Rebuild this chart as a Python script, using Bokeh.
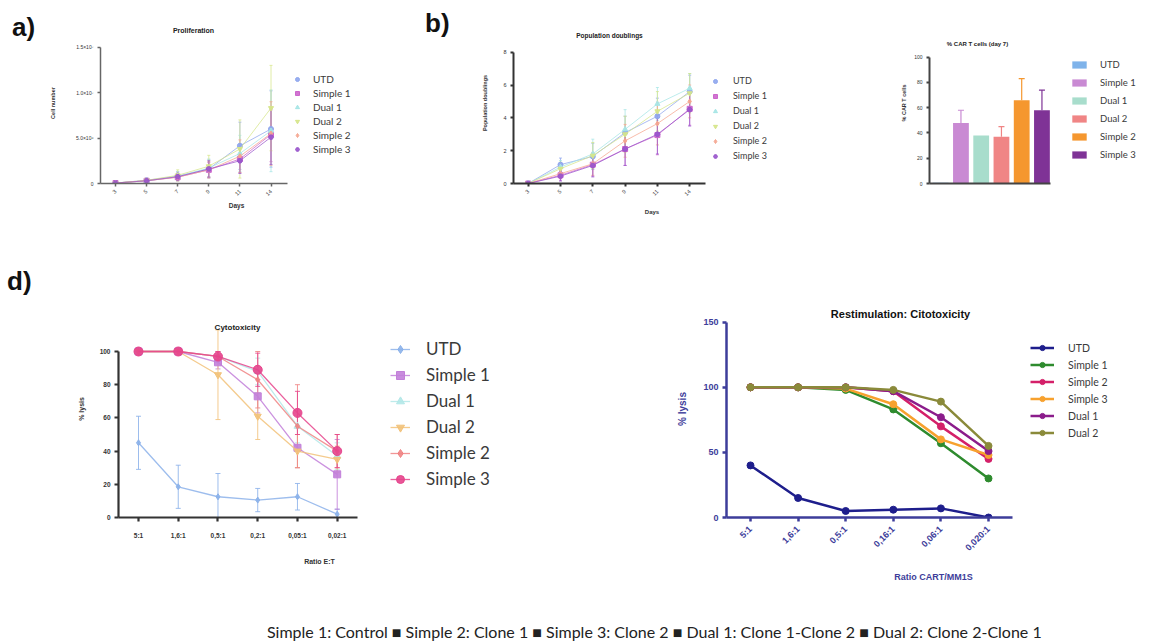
import math
from bokeh.plotting import figure
from bokeh.models import (ColumnDataSource, Range1d, Legend, LegendItem, Label,
                          Whisker, TeeHead, FixedTicker, Div)
from bokeh.layouts import column, row
from bokeh.embed import file_html
from bokeh.resources import INLINE

# ---------------- data ----------------
names_ab = ["UTD", "Simple 1", "Dual 1", "Dual 2", "Simple 2", "Simple 3"]
days = ["3", "5", "7", "9", "11", "14"]

# a) Proliferation (cell number, x10^6)
a_utd = [0.05, 0.35, 0.8, 1.6, 4.15, 6.0]
a_simple1 = [0.05, 0.3, 0.7, 1.5, 2.7, 5.4]
a_dual1 = [0.05, 0.3, 0.8, 1.7, 3.3, 5.8]
a_dual2 = [0.05, 0.35, 0.9, 1.9, 3.8, 8.3]
a_simple2 = [0.05, 0.3, 0.7, 1.5, 3.0, 5.5]
a_simple3 = [0.05, 0.3, 0.75, 1.6, 2.5, 5.1]
a_utd_sd = [0.05, 0.2, 0.5, 1.0, 2.6, 4.2]
a_simple1_sd = [0.05, 0.2, 0.4, 0.8, 1.5, 3.0]
a_dual1_sd = [0.05, 0.2, 0.5, 1.0, 2.0, 4.5]
a_dual2_sd = [0.05, 0.25, 0.6, 1.2, 3.2, 4.7]
a_simple2_sd = [0.05, 0.2, 0.4, 0.9, 1.8, 3.5]
a_simple3_sd = [0.05, 0.2, 0.4, 0.9, 1.4, 3.0]
a_yticks = [0, 5, 10, 15]
a_ytick_labels = ["0", "5.0×10⁶", "1.0×10⁷", "1.5×10⁷"]

# b) Population doublings
b_utd = [0.0, 1.15, 1.65, 3.1, 4.1, 5.6]
b_simple1 = [0.0, 0.5, 1.15, 2.1, 2.95, 4.55]
b_dual1 = [0.0, 1.0, 1.8, 3.3, 4.85, 5.8]
b_dual2 = [0.0, 0.9, 1.7, 3.0, 4.4, 5.5]
b_simple2 = [0.0, 0.6, 1.2, 2.6, 3.65, 5.0]
b_simple3 = [0.0, 0.45, 1.1, 2.1, 3.0, 4.5]
b_utd_sd = [0.0, 0.4, 0.8, 1.0, 1.1, 1.0]
b_simple1_sd = [0.0, 0.3, 0.7, 1.0, 1.2, 1.0]
b_dual1_sd = [0.0, 0.4, 0.9, 1.2, 1.0, 0.9]
b_dual2_sd = [0.0, 0.4, 0.8, 1.1, 1.2, 1.2]
b_simple2_sd = [0.0, 0.3, 0.7, 1.0, 1.3, 1.0]
b_simple3_sd = [0.0, 0.3, 0.7, 1.0, 1.2, 1.0]
b_yticks = [0, 2, 4, 6, 8]

# c) % CAR T cells (day 7)
c_values = [0.5, 48, 38, 37, 66, 58]
c_err = [0, 10, 0, 8, 17, 16]
c_yticks = [0, 20, 40, 60, 80, 100]

# d) Cytotoxicity
ratios_d = ["5:1", "1,6:1", "0,5:1", "0,2:1", "0,05:1", "0,02:1"]
d_utd = [45, 18.5, 12.5, 10.5, 12.5, 2]
d_simple1 = [100, 100, 93.5, 73, 42, 26]
d_dual1 = [100, 100, 97, 88, 55, 37]
d_dual2 = [100, 100, 86, 61, 40, 35]
d_simple2 = [100, 100, 97, 83, 55, 40]
d_simple3 = [100, 100, 97, 89, 63, 40]
d_utd_sd = [16, 13, 14, 7, 8, 3]
d_simple1_sd = [1, 1, 4, 10, 12, 21]
d_dual1_sd = [1, 1, 3, 8, 10, 8]
d_dual2_sd = [1, 1, 27, 14, 10, 8]
d_simple2_sd = [1, 1, 3, 17, 25, 10]
d_simple3_sd = [1, 1, 3, 10, 13, 10]
d_yticks = [0, 20, 40, 60, 80, 100]

# e) Restimulation: Citotoxicity
names_e = ["UTD", "Simple 1", "Simple 2", "Simple 3", "Dual 1", "Dual 2"]
ratios_e = ["5:1", "1,6:1", "0,5:1", "0,16:1", "0,06:1", "0,020:1"]
e_utd = [40, 15, 5, 6, 7, 0]
e_simple1 = [100, 100, 98, 83, 57, 30]
e_simple2 = [100, 100, 100, 97, 70, 45]
e_simple3 = [100, 100, 99, 87, 60, 48]
e_dual1 = [100, 100, 100, 97, 77, 51]
e_dual2 = [100, 100, 100, 98, 89, 55]
e_yticks = [0, 50, 100, 150]

footer_parts = ["Simple 1: Control", "Simple 2: Clone 1", "Simple 3: Clone 2",
                "Dual 1: Clone 1-Clone 2", "Dual 2: Clone 2-Clone 1"]

# ---------------- styles ----------------
ab_colors = ["#8fa6ee", "#cc66cc", "#a6e6e6", "#d6e68a", "#f5a58f", "#9955cc"]
ab_markers = ["circle", "square", "triangle", "inverted_triangle", "diamond", "hex"]
c_colors = ["#7fb3ea", "#c98ad3", "#a8ddcc", "#f08585", "#f5972f", "#7f3396"]
d_colors = ["#8cb2ea", "#c27fd9", "#b3e8e8", "#f2c27a", "#f08484", "#e6448c"]
d_markers = ["diamond", "square", "triangle", "inverted_triangle", "diamond", "circle"]
e_colors = ["#1e1e8c", "#2e8b2e", "#d42069", "#f7a12e", "#8b1c8b", "#8a8a3a"]
ARIAL = "Liberation Sans"
CAL = "Lato"


def geom(pl, pt, w, h, fl, fr, ft, fb, tick0, step, y_top_val, y_top_page, ax_right):
    """Page-pixel layout of one panel -> figure borders and data ranges."""
    g = dict(pl=pl, pt=pt, w=w, h=h, fl=fl, fr=fr, ft=ft, fb=fb)
    g["x0"] = (fl - tick0) / step
    g["x1"] = (fr - tick0) / step
    g["xb"] = (ax_right - tick0) / step
    g["y0"] = 0.0
    g["y1"] = y_top_val * (fb - ft) / (fb - y_top_page)
    g["ytop"] = y_top_val
    return g


def px2x(g, px):
    return g["x0"] + (px - g["fl"]) / (g["fr"] - g["fl"]) * (g["x1"] - g["x0"])


def py2y(g, py):
    return g["y0"] + (g["fb"] - py) / (g["fb"] - g["ft"]) * (g["y1"] - g["y0"])


def make_fig(g):
    p = figure(width=g["w"], height=g["h"],
               x_range=Range1d(g["x0"], g["x1"]), y_range=Range1d(g["y0"], g["y1"]),
               output_backend="svg", toolbar_location=None,
               min_border_left=round(g["fl"] - g["pl"]),
               min_border_right=round(g["pl"] + g["w"] - g["fr"]),
               min_border_top=round(g["ft"] - g["pt"]),
               min_border_bottom=round(g["pt"] + g["h"] - g["fb"]))
    p.outline_line_color = None
    p.grid.visible = False
    p.background_fill_color = "white"
    p.border_fill_color = "white"
    p.xaxis.bounds = (g["x0"], g["xb"])
    p.yaxis.bounds = (0, g["ytop"])
    return p


def style_axis(ax, color, lw, tick_size, font_size, bold=False, label_size="6px",
               label_color=None, label_standoff=5, tick_standoff=4):
    ax.axis_line_color = color
    ax.axis_line_width = lw
    ax.major_tick_line_color = color
    ax.major_tick_line_width = lw
    ax.major_tick_in = 0
    ax.major_tick_out = tick_size
    ax.minor_tick_line_color = None
    ax.major_label_text_font = ARIAL
    ax.major_label_text_font_size = font_size
    ax.major_label_text_color = label_color or "#333333"
    ax.major_label_text_font_style = "bold" if bold else "normal"
    ax.major_label_standoff = tick_standoff
    ax.axis_label_text_font = ARIAL
    ax.axis_label_text_font_size = label_size
    ax.axis_label_text_font_style = "bold"
    ax.axis_label_text_color = label_color or "#333333"
    ax.axis_label_standoff = label_standoff


def set_ticks(ax, labels):
    idx = list(range(len(labels)))
    ax.ticker = FixedTicker(ticks=idx)
    ax.major_label_overrides = {i: l for i, l in zip(idx, labels)}


def add_title(p, g, text, cx, cy, size, color="#222222"):
    p.add_layout(Label(x=px2x(g, cx), y=py2y(g, cy), text=text, text_align="center",
                       text_baseline="middle", text_font=ARIAL, text_font_size=size,
                       text_font_style="bold", text_color=color))


def add_legend(p, g, items, left_page, top_page, h, spacing, glyph_w, glyph_h, standoff,
               font_size):
    n = len(items)
    bottom_page = top_page + n * h + (n - 1) * spacing
    p.add_layout(Legend(items=items,
                        location=(round(left_page - g["fl"]), round(g["fb"] - bottom_page)),
                        label_text_font=CAL, label_text_font_size=font_size,
                        label_text_color="#3a3a3a",
                        glyph_width=glyph_w, glyph_height=glyph_h, label_height=h,
                        spacing=spacing, label_standoff=standoff, padding=0, margin=0,
                        border_line_color=None, background_fill_alpha=0))


def add_series(p, xs, vals, sds, color, marker, size, lw, alpha, head):
    lo = [v - s for v, s in zip(vals, sds)]
    hi = [v + s for v, s in zip(vals, sds)]
    src = ColumnDataSource(dict(x=xs, y=vals, lo=lo, hi=hi))
    ln = p.line("x", "y", source=src, line_color=color, line_width=lw, line_alpha=alpha)
    p.add_layout(Whisker(source=src, base="x", lower="lo", upper="hi", dimension="height",
                         line_color=color, line_width=1, line_alpha=alpha,
                         upper_head=TeeHead(size=head, line_color=color, line_alpha=alpha),
                         lower_head=TeeHead(size=head, line_color=color, line_alpha=alpha)))
    sc = p.scatter("x", "y", source=src, marker=marker, size=size, fill_color=color,
                   line_color=color, fill_alpha=0.9)
    return ln, sc


def panel_label(text, width, height, pad_left, pad_top):
    return Div(text=('<div style="font-family:\'Liberation Sans\',Arial,sans-serif;'
                     'font-weight:bold;font-size:26px;line-height:26px;color:#111;'
                     'margin:0;padding-left:%dpx;padding-top:%dpx">%s</div>'
                     % (pad_left, pad_top, text)),
               width=width, height=height, margin=0)


ROW1_TOP, ROW1_BOTTOM = 22, 183
ROW2_TOP, ROW2_BOTTOM = 300, 517

# ---------------- a) Proliferation ----------------
A = geom(46, 0, 364, 222, 100, 372, ROW1_TOP, ROW1_BOTTOM, 115, 31.1, 15, 46.7, 287)
pA = make_fig(A)
xA = list(range(len(days)))
a_vals = [a_utd, a_simple1, a_dual1, a_dual2, a_simple2, a_simple3]
a_sds = [a_utd_sd, a_simple1_sd, a_dual1_sd, a_dual2_sd, a_simple2_sd, a_simple3_sd]
itemsA = []
for nm, v, s, c, m in zip(names_ab, a_vals, a_sds, ab_colors, ab_markers):
    ln, sc = add_series(pA, xA, v, s, c, m, 5, 1, 0.75, 3)
    itemsA.append(LegendItem(label=nm, renderers=[sc]))
set_ticks(pA.xaxis, days)
pA.yaxis.ticker = FixedTicker(ticks=a_yticks)
pA.yaxis.major_label_overrides = {t: l for t, l in zip(a_yticks, a_ytick_labels)}
style_axis(pA.yaxis, "#666666", 1.5, 3, "5px", label_size="5.5px", label_standoff=17)
style_axis(pA.xaxis, "#666666", 1.5, 3, "5.5px", label_size="6.5px", label_standoff=1)
pA.xaxis.major_label_orientation = math.pi / 4
pA.yaxis.axis_label = "Cell number"
pA.xaxis.axis_label = "Days"
add_legend(pA, A, itemsA, 292, 73, 12, 2, 10, 10, 11, "10px")
add_title(pA, A, "Proliferation", 193, 30, "7px")

# ---------------- b) Population doublings ----------------
B = geom(470, 0, 400, 222, 513, 790, ROW1_TOP, ROW1_BOTTOM, 527.7, 32.3, 8, 51.7, 705)
pB = make_fig(B)
b_vals = [b_utd, b_simple1, b_dual1, b_dual2, b_simple2, b_simple3]
b_sds = [b_utd_sd, b_simple1_sd, b_dual1_sd, b_dual2_sd, b_simple2_sd, b_simple3_sd]
itemsB = []
for nm, v, s, c, m in zip(names_ab, b_vals, b_sds, ab_colors, ab_markers):
    ln, sc = add_series(pB, xA, v, s, c, m, 5, 1, 0.75, 3)
    itemsB.append(LegendItem(label=nm, renderers=[sc]))
set_ticks(pB.xaxis, days)
pB.yaxis.ticker = FixedTicker(ticks=b_yticks)
style_axis(pB.yaxis, "#333333", 2, 3, "5.5px", label_size="5.5px", label_standoff=12)
style_axis(pB.xaxis, "#333333", 2, 3, "5.5px", label_size="6px", label_standoff=8)
pB.xaxis.major_label_orientation = math.pi / 4
pB.yaxis.axis_label = "Population doublings"
pB.xaxis.axis_label = "Days"
add_legend(pB, B, itemsB, 710, 75, 11, 4, 10, 10, 13, "9px")
add_title(pB, B, "Population doublings", 609, 35, "6.5px")

# ---------------- c) % CAR T cells ----------------
C = geom(870, 0, 282, 222, 929, 1150, ROW1_TOP, ROW1_BOTTOM, 940.2, 20.25, 100, 56.7, 1050)
pC = make_fig(C)
xC = list(range(len(names_ab)))
srcC = ColumnDataSource(dict(x=xC, top=c_values, color=c_colors))
rC = pC.vbar(x="x", top="top", width=0.78, source=srcC, fill_color="color",
             line_color=None)
for i, (v, e, c) in enumerate(zip(c_values, c_err, c_colors)):
    if e > 0:
        s = ColumnDataSource(dict(x=[i], lo=[v], hi=[v + e]))
        pC.add_layout(Whisker(source=s, base="x", lower="lo", upper="hi",
                              line_color=c, line_width=1.2,
                              upper_head=TeeHead(size=6, line_color=c, line_width=1.2),
                              lower_head=None))
pC.xaxis.ticker = FixedTicker(ticks=[])
pC.yaxis.ticker = FixedTicker(ticks=c_yticks)
style_axis(pC.yaxis, "#444444", 2, 3, "5px", label_size="5.5px", label_standoff=4)
style_axis(pC.xaxis, "#444444", 2, 3, "5px")
pC.yaxis.axis_label = "% CAR T cells"
add_legend(pC, C, [LegendItem(label=nm, renderers=[rC], index=i)
                   for i, nm in enumerate(names_ab)],
           1070, 58, 12, 6, 18, 9, 12, "9.5px")
add_title(pC, C, "% CAR T cells (day 7)", 977, 43, "6px")

# ---------------- d) Cytotoxicity ----------------
D = geom(52, 222, 588, 383, 118, 520, ROW2_TOP, ROW2_BOTTOM, 138, 39.74, 100, 351, 357)
pD = make_fig(D)
xD = list(range(len(ratios_d)))
d_vals = [d_utd, d_simple1, d_dual1, d_dual2, d_simple2, d_simple3]
d_sds = [d_utd_sd, d_simple1_sd, d_dual1_sd, d_dual2_sd, d_simple2_sd, d_simple3_sd]
d_sizes = [6, 7, 7, 7, 6, 9]
itemsD = []
for nm, v, s, c, m, sz in zip(names_ab, d_vals, d_sds, d_colors, d_markers, d_sizes):
    ln, sc = add_series(pD, xD, v, s, c, m, sz, 1.3, 0.85, 5)
    itemsD.append(LegendItem(label=nm, renderers=[ln, sc]))
set_ticks(pD.xaxis, ratios_d)
pD.yaxis.ticker = FixedTicker(ticks=d_yticks)
style_axis(pD.yaxis, "#333333", 2.2, 4, "6.5px", bold=True, label_size="7px",
           label_standoff=12)
style_axis(pD.xaxis, "#333333", 2.2, 4, "6.5px", bold=True, label_size="7px",
           label_standoff=16, tick_standoff=10)
pD.yaxis.axis_label = "% lysis"
pD.xaxis.axis_label = "Ratio E:T"
add_legend(pD, D, itemsD, 390, 338, 21, 5, 20, 20, 16, "17px")
add_title(pD, D, "Cytotoxicity", 237, 327, "8px")

# ---------------- e) Restimulation ----------------
E = geom(640, 222, 513, 383, 726, 1140, ROW2_TOP, ROW2_BOTTOM, 750, 47.6, 150, 321.7, 1012)
pE = make_fig(E)
xE = list(range(len(ratios_e)))
e_vals = [e_utd, e_simple1, e_simple2, e_simple3, e_dual1, e_dual2]
itemsE = []
for nm, v, c in zip(names_e, e_vals, e_colors):
    src = ColumnDataSource(dict(x=xE, y=v))
    ln = pE.line("x", "y", source=src, line_color=c, line_width=2.5)
    sc = pE.scatter("x", "y", source=src, marker="circle", size=7, fill_color=c,
                    line_color=c)
    itemsE.append(LegendItem(label=nm, renderers=[ln, sc]))
navy = "#3d3d9a"
set_ticks(pE.xaxis, ratios_e)
pE.yaxis.ticker = FixedTicker(ticks=e_yticks)
style_axis(pE.yaxis, navy, 2.5, 4, "9px", bold=True, label_size="10px",
           label_color=navy, label_standoff=12)
style_axis(pE.xaxis, navy, 2.5, 4, "9px", bold=True, label_size="9px",
           label_color=navy, label_standoff=13, tick_standoff=6)
pE.xaxis.major_label_orientation = math.pi / 4
pE.yaxis.axis_label = "% lysis"
pE.xaxis.axis_label = "Ratio CART/MM1S"
add_legend(pE, E, itemsE, 1030, 341, 13, 4, 24, 13, 14, "10.5px")
add_title(pE, E, "Restimulation: Citotoxicity", 900, 313, "11px", color="#111111")

# ---------------- labels, footer, layout ----------------
lab_a = panel_label("a)", 46, 222, 12, 14)
lab_b = panel_label("b)", 60, 222, 15, 10)
lab_d = panel_label("d)", 52, 383, 7, 46)
footer = Div(text=('<div style="padding-top:18px;padding-left:267px;font-family:Lato,'
                   'sans-serif;font-size:16px;line-height:18px;white-space:nowrap;'
                   'color:#222">' + " &#9632; ".join(footer_parts) + "</div>"),
             width=1152, height=36, margin=0)

row1 = row(lab_a, pA, lab_b, pB, pC)
row2 = row(lab_d, pD, pE)
layout = column(row1, row2, footer)
open("out.html", "w").write(file_html(layout, INLINE))
